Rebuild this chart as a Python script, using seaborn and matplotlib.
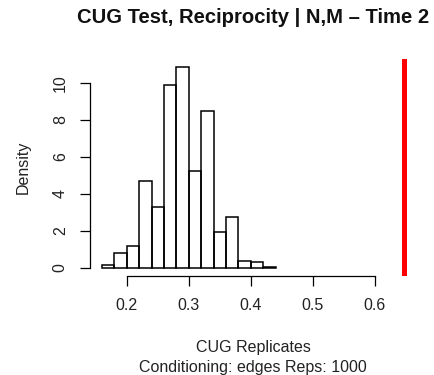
import numpy as np
import matplotlib
matplotlib.use("Agg")
import matplotlib.pyplot as plt
import seaborn as sns

# histogram of CUG replicates (density, bin width 0.02)
bin_edges = [0.16, 0.18, 0.20, 0.22, 0.24, 0.26, 0.28, 0.30,
             0.32, 0.34, 0.36, 0.38, 0.40, 0.42, 0.44]
density = [0.15, 0.8, 1.2, 4.7, 3.3, 9.85, 10.85, 5.25,
           8.45, 1.95, 2.75, 0.35, 0.3, 0.05]
observed = 0.647

x_ticks = [0.2, 0.3, 0.4, 0.5, 0.6]
y_ticks = [0, 2, 4, 6, 8, 10]

sns.set_style("white")
plt.rcParams['font.family'] = ['Liberation Sans', 'DejaVu Sans']

centers = [(a + b) / 2 for a, b in zip(bin_edges[:-1], bin_edges[1:])]

fig = plt.figure(figsize=(4.35, 3.75), dpi=100)
ax = fig.add_axes([0.2069, 0.264, 0.7494, 0.5787])

sns.histplot(x=centers, weights=density, bins=bin_edges, stat="count",
             fill=False, color="black", edgecolor="black", linewidth=1.1,
             element="bars", ax=ax)

ax.axvline(observed, color="#ff0000", linewidth=3.6)

ax.set_xlim(0.1405, 0.6665)
ax.set_ylim(-0.434, 11.28)

for s in ["top", "right"]:
    ax.spines[s].set_visible(False)
ax.spines["left"].set_bounds(0, 10)
ax.spines["bottom"].set_bounds(0.2, 0.6)
for s in ["left", "bottom"]:
    ax.spines[s].set_color("black")
    ax.spines[s].set_linewidth(0.9)

ax.set_xticks(x_ticks)
ax.set_xticklabels([str(t) for t in x_ticks])
ax.set_yticks(y_ticks)
ax.set_yticklabels([str(t) for t in y_ticks], rotation=90, va="center")
ax.tick_params(axis="both", direction="out", length=7, width=0.9,
               labelsize=11.5, colors="black", pad=9, left=True, bottom=True)
ax.tick_params(axis="both", labelcolor="#222222")

ax.set_xlabel("CUG Replicates\nConditioning: edges Reps: 1000",
              fontsize=11.5, color="#222222", labelpad=19, linespacing=1.45)
ax.set_ylabel("Density", fontsize=11.5, color="#222222", labelpad=16)
ax.set_title("CUG Test, Reciprocity | N,M \u2013 Time 2",
             fontsize=14.6, fontweight="bold", color="#111111", pad=26)

fig.savefig("out.png", dpi=100, facecolor="white")
